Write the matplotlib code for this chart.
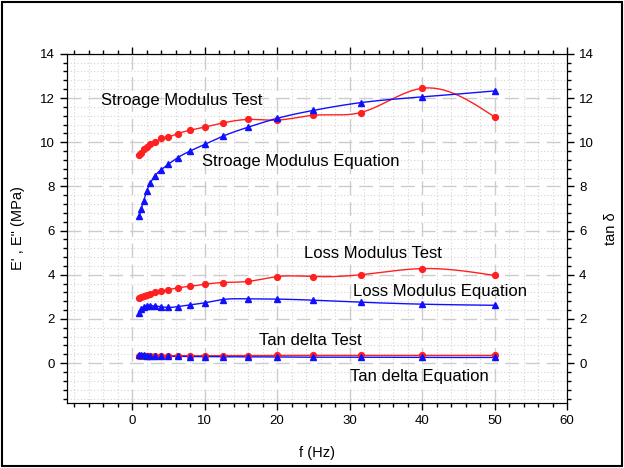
import numpy as np
import matplotlib
matplotlib.use("Agg")
import matplotlib.pyplot as plt
from matplotlib.ticker import MultipleLocator
from matplotlib.patches import Rectangle

plt.rcParams['font.family'] = ['Liberation Sans', 'DejaVu Sans']

# frequency (Hz)
freq = [1, 1.25, 1.6, 2, 2.5, 3.15, 4, 5, 6.3, 8, 10, 12.5, 16, 20, 25, 31.5, 40, 50]

# storage modulus E' (MPa)
storage_test = [9.43, 9.53, 9.68, 9.8, 9.9, 10.0, 10.17, 10.24, 10.39, 10.54,
                10.69, 10.87, 11.03, 11.0, 11.22, 11.34, 12.44, 11.14]
storage_eq = [6.64, 6.97, 7.35, 7.77, 8.14, 8.48, 8.75, 9.0, 9.3, 9.6,
              9.9, 10.27, 10.68, 11.08, 11.44, 11.79, 12.05, 12.32]

# loss modulus E" (MPa)
loss_test = [2.97, 3.0, 3.05, 3.09, 3.14, 3.2, 3.26, 3.32, 3.41, 3.48,
             3.57, 3.65, 3.7, 3.92, 3.92, 4.0, 4.28, 3.97]
loss_eq = [2.29, 2.44, 2.56, 2.61, 2.61, 2.59, 2.55, 2.52, 2.56, 2.64,
           2.73, 2.88, 2.91, 2.9, 2.85, 2.76, 2.67, 2.62]

# tan delta
tan_test = [0.33, 0.33, 0.33, 0.33, 0.33, 0.33, 0.33, 0.33, 0.33, 0.33,
            0.33, 0.34, 0.34, 0.35, 0.35, 0.35, 0.35, 0.35]
tan_eq = [0.35, 0.35, 0.35, 0.34, 0.34, 0.33, 0.32, 0.31, 0.31, 0.3,
          0.3, 0.29, 0.29, 0.28, 0.27, 0.27, 0.26, 0.26]

labels = [("Stroage Modulus Test", -4.3, 11.9),
          ("Stroage Modulus Equation", 9.6, 9.14),
          ("Loss Modulus Test", 23.7, 4.98),
          ("Loss Modulus Equation", 30.5, 3.24),
          ("Tan delta Test", 17.5, 1.04),
          ("Tan delta Equation", 30.0, -0.62)]


def smooth(x, y, n=30):
    """natural cubic spline through the points, for drawing the line only"""
    x = np.asarray(x, float)
    y = np.asarray(y, float)
    k = len(x)
    h = np.diff(x)
    A = np.zeros((k, k))
    r = np.zeros(k)
    A[0, 0] = A[-1, -1] = 1
    for i in range(1, k - 1):
        A[i, i - 1] = h[i - 1]
        A[i, i] = 2 * (h[i - 1] + h[i])
        A[i, i + 1] = h[i]
        r[i] = 6 * ((y[i + 1] - y[i]) / h[i] - (y[i] - y[i - 1]) / h[i - 1])
    m = np.linalg.solve(A, r)
    xs, ys = [], []
    for i in range(k - 1):
        t = np.linspace(x[i], x[i + 1], n, endpoint=False)
        a = x[i + 1] - t
        b = t - x[i]
        s = (m[i] * a**3 + m[i + 1] * b**3) / (6 * h[i]) \
            + (y[i] / h[i] - m[i] * h[i] / 6) * a \
            + (y[i + 1] / h[i] - m[i + 1] * h[i] / 6) * b
        xs.extend(t)
        ys.extend(s)
    xs.append(x[-1])
    ys.append(y[-1])
    return xs, ys


fig = plt.figure(figsize=(6.24, 4.68), dpi=100)
ax = fig.add_axes([0.107, 0.139, 0.802, 0.746])

for ydata in (storage_test, loss_test, tan_test):
    ax.plot(*smooth(freq, ydata), color='#ff2020', lw=1, zorder=3)
    ax.plot(freq, ydata, 'o', color='#ff2020', ms=4.2, zorder=4)
for ydata in (storage_eq, loss_eq, tan_eq):
    ax.plot(*smooth(freq, ydata), color='#1010ff', lw=1, zorder=3)
    ax.plot(freq, ydata, '^', color='#1010ff', ms=5, zorder=4)

for txt, x, y in labels:
    ax.text(x, y, txt, fontsize=12, va='center', ha='left')

ax.set_xlim(-9, 60)
ax.set_ylim(-1.8, 14)
ax.xaxis.set_major_locator(MultipleLocator(10))
ax.xaxis.set_minor_locator(MultipleLocator(2))
ax.yaxis.set_major_locator(MultipleLocator(2))
ax.yaxis.set_minor_locator(MultipleLocator(0.4))
ax.grid(which='major', color='#cccccc', ls=(0, (10, 5)), lw=1)
ax.grid(which='minor', color='#d4d4d4', ls=(0, (1, 2)), lw=0.8)
ax.set_axisbelow(True)
ax.tick_params(which='both', direction='out', top=True, labelsize=9.5, width=1)
ax.tick_params(which='major', length=5)
ax.tick_params(which='minor', length=3)
ax.set_xlabel('f (Hz)', fontsize=10.5, labelpad=14)
ax.set_ylabel("E' , E\" (MPa)", fontsize=10.5, labelpad=11)

ax2 = ax.twinx()
ax2.set_ylim(-1.8, 14)
ax2.yaxis.set_major_locator(MultipleLocator(2))
ax2.yaxis.set_minor_locator(MultipleLocator(0.4))
ax2.tick_params(which='both', direction='out', labelsize=9.5, width=1)
ax2.tick_params(which='major', length=5)
ax2.tick_params(which='minor', length=3)
ax2.set_ylabel('tan δ', fontsize=10.5, labelpad=7)

fig.patches.append(Rectangle((0.003, 0.004), 0.994, 0.992, transform=fig.transFigure,
                             fill=False, edgecolor='black', lw=1.5))

fig.savefig('out.png', dpi=100)
